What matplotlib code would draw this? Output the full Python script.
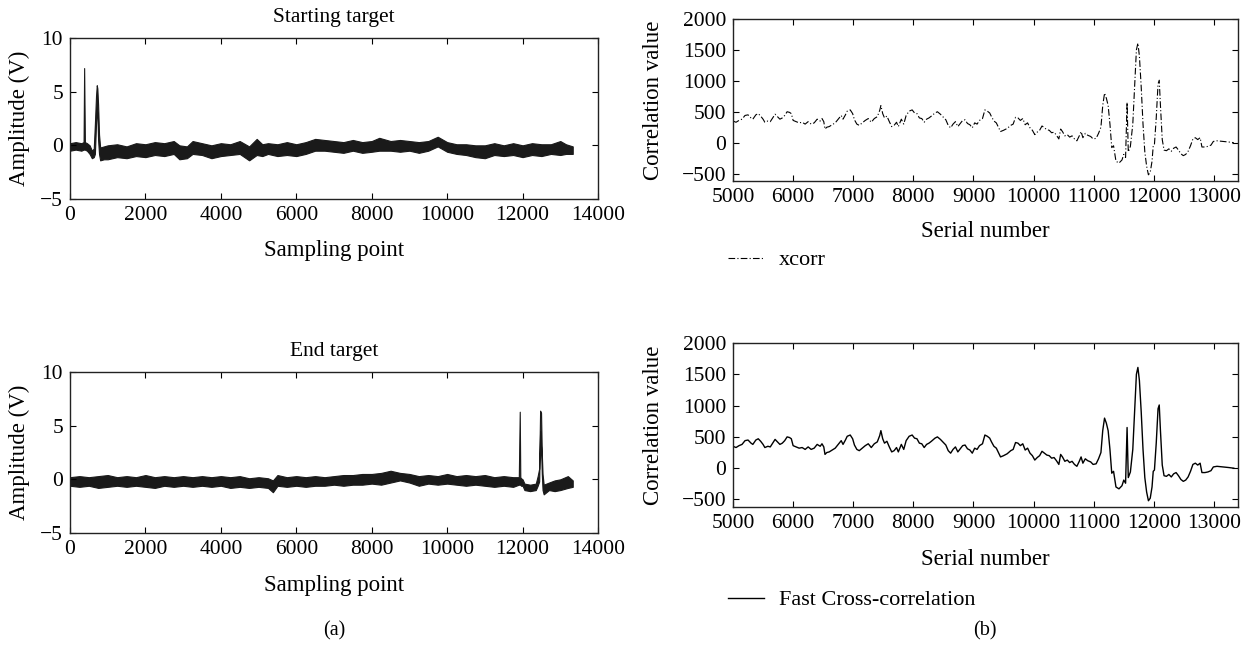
import matplotlib
matplotlib.use("Agg")
import matplotlib.pyplot as plt

plt.rcParams['font.family'] = ['Liberation Serif', 'DejaVu Serif']

# amplitude signals: band drawn between lower / upper envelope of the noisy trace
start_x = [0, 150, 300, 360, 375, 395, 450, 520, 580, 630, 660, 690, 710, 725, 745, 770, 800,
           900, 1000, 1250, 1500, 1750, 2000, 2250, 2500, 2750, 2900, 3100, 3250, 3500, 3750,
           4000, 4250, 4500, 4750, 4950, 5100, 5250, 5500, 5750, 6000, 6250, 6500, 6750, 7000,
           7250, 7500, 7750, 8000, 8200, 8500, 8750, 9000, 9250, 9500, 9750, 10000, 10250,
           10500, 10750, 11000, 11250, 11500, 11750, 12000, 12250, 12500, 12750, 13000, 13150,
           13330]
start_hi = [0.2, 0.3, 0.2, 0.3, 7.2, 0.3, 0.2, 0.0, -0.5, -0.3, 2.0, 4.6, 5.6, 5.3, 3.8, 1.0, -0.2,
            -0.1, 0.0, 0.1, -0.1, 0.2, 0.1, 0.3, 0.2, 0.4, 0.0, -0.1, 0.4, 0.2, 0.0,
            0.2, 0.1, 0.4, -0.1, 0.6, 0.1, 0.2, 0.1, 0.3, 0.1, 0.3, 0.6, 0.5, 0.4,
            0.3, 0.5, 0.3, 0.4, 0.7, 0.4, 0.5, 0.4, 0.3, 0.4, 0.8, 0.3, 0.1,
            0.1, 0.0, 0.0, 0.2, 0.0, 0.2, 0.0, 0.2, 0.1, 0.1, 0.4, 0.1,
            -0.1]
start_lo = [-0.5, -0.4, -0.5, -0.4, -0.4, -0.4, -0.5, -0.8, -1.2, -1.1, -0.8, 2.0, 3.3, 3.0, 0.5, -0.8, -1.4,
            -1.3, -1.3, -1.1, -1.2, -1.0, -1.1, -0.9, -1.0, -0.8, -1.3, -1.2, -0.8, -0.9, -1.2,
            -1.0, -0.9, -0.8, -1.4, -0.9, -1.0, -0.8, -1.0, -0.9, -1.0, -0.8, -0.5, -0.5, -0.6,
            -0.7, -0.5, -0.7, -0.6, -0.5, -0.5, -0.6, -0.5, -0.7, -0.5, -0.1, -0.6, -0.8,
            -0.9, -1.1, -1.2, -0.9, -1.0, -0.9, -1.1, -0.9, -1.0, -0.8, -0.9, -0.8,
            -0.8]

end_x = [0, 250, 500, 750, 1000, 1250, 1500, 1750, 2000, 2250, 2500, 2750, 3000, 3250, 3500,
         3750, 4000, 4250, 4500, 4750, 5000, 5250, 5380, 5500, 5750, 6000, 6250, 6500, 6750,
         7000, 7250, 7500, 7750, 8000, 8250, 8500, 8750, 9000, 9250, 9500, 9750, 10000, 10250,
         10500, 10750, 11000, 11250, 11500, 11750, 11900, 11925, 11940, 11960,
         12000, 12050, 12200, 12350, 12400, 12440, 12465, 12490, 12510, 12530, 12560, 12700,
         12850, 13000, 13200, 13330]
end_hi = [0.2, 0.3, 0.2, 0.3, 0.4, 0.2, 0.3, 0.2, 0.4, 0.2, 0.3, 0.2, 0.3, 0.2, 0.3,
          0.2, 0.3, 0.2, 0.3, 0.1, 0.2, 0.1, -0.1, 0.4, 0.2, 0.3, 0.2, 0.3, 0.2,
          0.3, 0.4, 0.4, 0.5, 0.5, 0.6, 0.8, 0.6, 0.5, 0.3, 0.4, 0.3, 0.5, 0.3,
          0.4, 0.3, 0.4, 0.2, 0.3, 0.2, 0.2, 6.3, 0.2, 0.1,
          0.0, -0.4, -0.5, -0.4, 0.3, 1.0, 6.4, 6.2, 2.4, 0.5, -0.5, -0.3,
          -0.1, 0.0, 0.3, -0.1]
end_lo = [-0.6, -0.7, -0.6, -0.8, -0.7, -0.6, -0.7, -0.6, -0.7, -0.8, -0.6, -0.7, -0.6, -0.7, -0.6,
          -0.7, -0.6, -0.8, -0.7, -0.8, -0.7, -0.8, -1.2, -0.6, -0.7, -0.6, -0.7, -0.6, -0.6,
          -0.5, -0.6, -0.5, -0.5, -0.4, -0.5, -0.3, -0.1, -0.3, -0.6, -0.4, -0.5, -0.4, -0.5,
          -0.6, -0.5, -0.6, -0.7, -0.6, -0.7, -0.5, -0.5, -0.5, -0.6,
          -0.6, -1.0, -1.1, -1.0, -0.6, -0.2, 4.5, 3.0, 0.5, -1.0, -1.4, -1.0,
          -1.1, -1.0, -0.8, -0.7]

# correlation result (same values for xcorr and the fast version)
serial_x = [5000, 5050, 5100, 5150, 5200, 5250, 5300, 5330, 5380, 5420, 5460, 5500, 5530, 5580,
            5620, 5660, 5700, 5740, 5780, 5820, 5860, 5900, 5940, 5970, 6000, 6050, 6100, 6150,
            6200, 6250, 6300, 6350, 6400, 6450, 6480, 6510, 6530, 6560, 6600, 6650, 6700, 6750,
            6800, 6830, 6870, 6900, 6950, 6990, 7020, 7060, 7100, 7150, 7200, 7250, 7300, 7350,
            7400, 7440, 7460, 7490, 7520, 7560, 7600, 7640, 7680, 7720, 7750, 7800, 7840, 7880,
            7930, 7980, 8020, 8060, 8100, 8140, 8180, 8220, 8260, 8300, 8360, 8400, 8450, 8500,
            8540, 8580, 8620, 8660, 8700, 8740, 8780, 8820, 8860, 8900, 8940, 8980, 9020, 9060,
            9100, 9150, 9190, 9230, 9270, 9300, 9340, 9380, 9420, 9450, 9500, 9560, 9620, 9660,
            9700, 9740, 9780, 9820, 9860, 9900, 9940, 9980, 10020, 10060, 10100, 10140, 10180,
            10220, 10260, 10300, 10340, 10380, 10420, 10450, 10480, 10520, 10560, 10600, 10640,
            10680, 10720, 10760, 10790, 10820, 10860, 10900, 10950, 10990, 11040, 11080, 11120,
            11150, 11180, 11210, 11240, 11270, 11300, 11330, 11370, 11420, 11470, 11500, 11530,
            11555, 11575, 11610, 11650, 11680, 11710, 11735, 11760, 11790, 11820, 11850, 11880,
            11910, 11940, 11970, 11990, 12010, 12040, 12070, 12090, 12110, 12140, 12170, 12210,
            12250, 12290, 12330, 12370, 12410, 12450, 12490, 12530, 12570, 12610, 12650, 12690,
            12730, 12770, 12800, 12850, 12900, 12950, 12990, 13050, 13150, 13250, 13330]
corr_vals = [350, 330, 360, 380, 440, 450, 400, 380, 450, 470, 430, 380, 330, 350,
             340, 400, 460, 420, 380, 400, 440, 500, 490, 470, 360, 340, 320, 330,
             300, 340, 300, 320, 380, 350, 390, 340, 220, 250, 260, 290, 320, 380,
             440, 380, 450, 510, 530, 470, 370, 300, 280, 320, 360, 390, 330, 390,
             420, 520, 600, 470, 400, 430, 340, 260, 280, 330, 260, 380, 300, 440,
             510, 530, 480, 470, 400, 390, 330, 380, 400, 430, 480, 500, 460, 410,
             370, 280, 240, 300, 340, 260, 310, 360, 370, 310, 290, 240, 320, 300,
             360, 390, 530, 510, 480, 420, 350, 320, 240, 180, 200, 230, 280, 300,
             410, 400, 360, 390, 290, 320, 240, 200, 130, 170, 200, 270, 240,
             210, 200, 160, 170, 120, 60, 220, 180, 110, 130, 90, 110,
             60, 30, 110, 180, 80, 150, 120, 100, 60, 70, 150, 250,
             600, 800, 720, 600, 300, -80, -50, -300, -330, -280, -190, -240,
             650, -150, -60, 300, 900, 1500, 1610, 1400, 900, 300, -150, -380,
             -520, -480, -300, -50, -30, 400, 950, 1010, 600, 50, -120, -130,
             -100, -140, -90, -70, -120, -180, -210, -190, -140, -50, 60, 80,
             50, 80, -70, -70, -60, -40, 20, 30, 20, 10, 0]

W, H = 1246, 645
fig = plt.figure(figsize=(W / 100, H / 100), dpi=100)

TICK_FS = 15.5
LABEL_FS = 16.5


def box(px_left, px_top, px_right, px_bottom):
    return [px_left / W, 1 - px_bottom / H, (px_right - px_left) / W, (px_bottom - px_top) / H]


def style(ax):
    ax.tick_params(direction='in', length=4, width=0.8, top=True, right=True,
                   labelsize=TICK_FS, pad=5)
    for s in ax.spines.values():
        s.set_linewidth(1.0)
        s.set_color('#222222')


def amp_panel(rect, title, x, lo, hi, xlab_y):
    ax = fig.add_axes(rect)
    ax.fill_between(x, lo, hi, color='#1a1a1a', linewidth=0.8, edgecolor='#1a1a1a')
    ax.set_xlim(0, 14000)
    ax.set_ylim(-5, 10)
    ax.set_xticks(range(0, 14001, 2000))
    ax.set_yticks([-5, 0, 5, 10])
    ax.text(0.5, 1.13, title, transform=ax.transAxes, ha='center', va='center', fontsize=15.5)
    ax.set_xlabel('Sampling point', fontsize=LABEL_FS)
    ax.set_ylabel('Amplitude (V)', fontsize=LABEL_FS)
    ax.xaxis.set_label_coords(0.5, xlab_y)
    ax.yaxis.set_label_coords(-0.076, 0.5)
    style(ax)
    return ax


def corr_panel(rect, label, xlab_y, **line_kw):
    ax = fig.add_axes(rect)
    ax.plot(serial_x, corr_vals, color='black', label=label, **line_kw)
    ax.set_xlim(5000, 13400)
    ax.set_ylim(-620, 2000)
    ax.set_xticks(range(5000, 13001, 1000))
    ax.set_yticks(range(-500, 2001, 500))
    ax.set_xlabel('Serial number', fontsize=LABEL_FS)
    ax.set_ylabel('Correlation value', fontsize=LABEL_FS)
    ax.xaxis.set_label_coords(0.5, xlab_y)
    ax.yaxis.set_label_coords(-0.137, 0.5)
    style(ax)
    return ax


amp_panel(box(70, 38, 598, 199), 'Starting target', start_x, start_lo, start_hi, -0.255)
amp_panel(box(70, 372, 598, 533), 'End target', end_x, end_lo, end_hi, -0.26)

ax_top = corr_panel(box(733, 19, 1238, 181), 'xcorr', -0.247,
                    linewidth=0.8, dashes=(6, 2, 1, 2))
ax_bot = corr_panel(box(733, 343, 1238, 507), 'Fast Cross-correlation', -0.256,
                    linewidth=1.0)

for ax, ypix in [(ax_top, 260), (ax_bot, 600)]:
    ax.legend(loc='center left', bbox_to_anchor=(728 / W, 1 - ypix / H),
              bbox_transform=fig.transFigure, frameon=False, fontsize=16,
              handlelength=1.6, handletextpad=0.7, borderpad=0, borderaxespad=0)

fig.text(334 / W, 1 - 631 / H, '(a)', ha='center', va='center', fontsize=14.5)
fig.text(985 / W, 1 - 631 / H, '(b)', ha='center', va='center', fontsize=14.5)

fig.savefig('out.png', dpi=100)
